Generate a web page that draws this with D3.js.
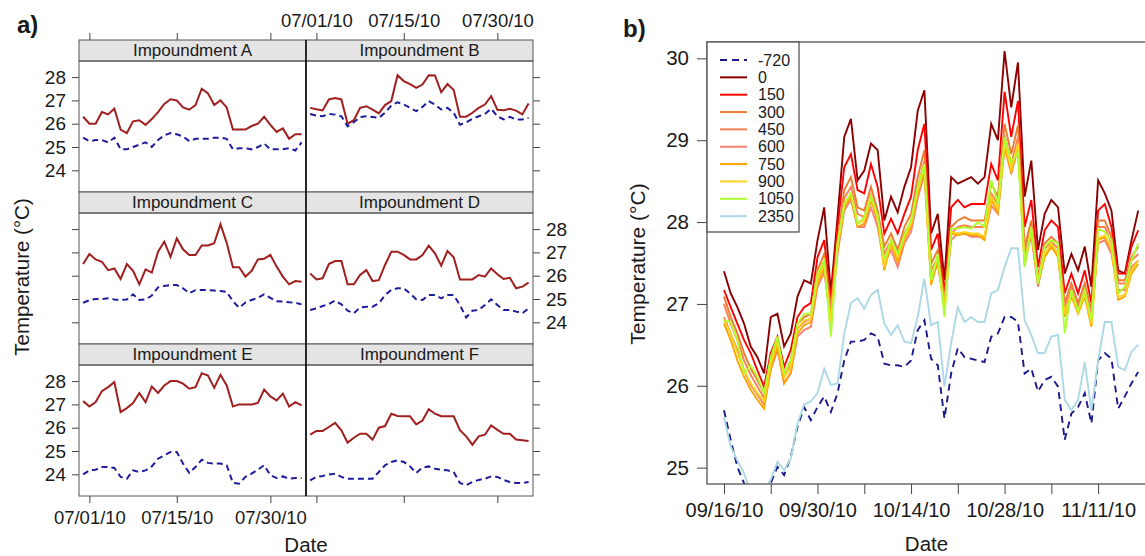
<!DOCTYPE html>
<html lang="en">
<head>
<meta charset="UTF-8">
<title>Impoundment temperatures</title>
<script src="https://d3js.org/d3.v7.min.js"></script>
<style>
    body { margin: 0; background: #fff; }
    svg text { font-family: "Liberation Sans", Arial, sans-serif; fill: #1a1a1a; }
    .tick line { stroke: #444; }
</style>
</head>
<body>
<svg id="canvas" width="1145" height="556"></svg>
<script>
// ---------- panel a data (daily, 06/30/10 - 08/04/10) ----------
const aFirstDay = "06/30/2010", aLastDay = "08/04/2010";
const impoundments = ["Impoundment A", "Impoundment B", "Impoundment C", "Impoundment D", "Impoundment E", "Impoundment F"];
const aTicks = ["07/01/2010", "07/15/2010", "07/30/2010"];
const aYTicks = [24, 25, 26, 27, 28];

const upperA = [26.3, 26.0, 26.0, 26.5, 26.4, 26.65, 25.75, 25.6, 26.1, 26.15, 25.95, 26.2, 26.5, 26.85, 27.05, 27.0, 26.7, 26.6, 26.8, 27.5, 27.3, 26.8, 27.0, 26.7, 25.75, 25.75, 25.75, 25.9, 26.0, 26.3, 25.95, 25.65, 25.8, 25.35, 25.55, 25.55];
const lowerA = [25.4, 25.25, 25.3, 25.3, 25.2, 25.4, 24.9, 24.9, 25.0, 25.1, 25.2, 25.0, 25.3, 25.5, 25.6, 25.55, 25.45, 25.25, 25.35, 25.35, 25.35, 25.4, 25.4, 25.35, 24.9, 24.95, 24.95, 24.9, 25.0, 25.15, 24.9, 24.9, 24.9, 24.95, 24.85, 25.2];
const upperB = [26.68, 26.62, 26.57, 27.04, 27.1, 27.04, 26.0, 26.15, 26.68, 26.75, 26.6, 26.44, 26.8, 26.97, 28.08, 27.83, 27.7, 27.54, 27.68, 28.08, 28.07, 27.35, 27.7, 27.44, 26.3, 26.3, 26.47, 26.68, 26.82, 27.18, 26.6, 26.58, 26.64, 26.56, 26.4, 26.87];
const lowerB = [26.42, 26.35, 26.32, 26.42, 26.39, 26.32, 25.89, 26.06, 26.29, 26.32, 26.29, 26.25, 26.47, 26.78, 26.92, 26.82, 26.68, 26.54, 26.72, 26.97, 26.82, 26.61, 26.68, 26.47, 25.96, 26.06, 26.21, 26.32, 26.42, 26.64, 26.32, 26.18, 26.29, 26.18, 26.18, 26.25];
const upperC = [26.5, 26.93, 26.7, 26.6, 26.24, 26.31, 25.86, 26.5, 26.21, 25.63, 26.27, 26.13, 27.03, 27.46, 26.81, 27.6, 27.13, 26.89, 26.89, 27.3, 27.3, 27.39, 28.21, 27.41, 26.36, 26.36, 25.96, 26.21, 26.7, 26.73, 26.89, 26.39, 25.96, 25.63, 25.77, 25.74];
const lowerC = [24.84, 24.95, 25.0, 25.0, 25.03, 24.98, 24.96, 24.98, 25.2, 24.96, 24.98, 25.15, 25.5, 25.56, 25.6, 25.6, 25.46, 25.25, 25.38, 25.39, 25.38, 25.36, 25.34, 25.31, 24.9, 24.63, 24.85, 24.96, 25.05, 25.2, 25.05, 24.9, 24.89, 24.86, 24.84, 24.77];
const upperD = [26.1, 25.84, 25.89, 26.5, 26.63, 26.63, 25.63, 25.63, 26.03, 26.24, 25.77, 25.81, 26.46, 27.03, 27.03, 26.89, 26.7, 26.7, 26.89, 27.29, 26.96, 26.43, 27.06, 26.79, 25.84, 25.84, 25.84, 26.03, 25.96, 26.31, 26.06, 25.86, 25.91, 25.46, 25.53, 25.7];
const lowerD = [24.53, 24.6, 24.7, 24.79, 24.93, 24.77, 24.5, 24.39, 24.64, 24.67, 24.67, 24.81, 25.17, 25.39, 25.46, 25.46, 25.24, 24.99, 24.96, 25.17, 25.17, 25.03, 25.17, 25.17, 24.74, 24.21, 24.5, 24.53, 24.74, 24.99, 24.74, 24.53, 24.53, 24.46, 24.39, 24.6];
const upperE = [27.14, 26.91, 27.1, 27.57, 27.74, 27.96, 26.67, 26.84, 27.06, 27.49, 27.1, 27.77, 27.49, 27.81, 28.0, 28.0, 27.89, 27.67, 27.74, 28.34, 28.24, 27.71, 28.27, 27.81, 26.91, 27.0, 27.0, 27.0, 27.06, 27.64, 27.34, 27.17, 27.46, 26.91, 27.1, 26.96];
const lowerE = [24.0, 24.17, 24.2, 24.31, 24.31, 24.27, 23.89, 23.81, 24.17, 24.1, 24.17, 24.34, 24.67, 24.81, 24.96, 24.96, 24.46, 24.06, 24.31, 24.63, 24.49, 24.46, 24.46, 24.39, 23.63, 23.6, 23.89, 24.03, 24.2, 24.39, 23.96, 23.84, 23.91, 23.81, 23.84, 23.84];
const upperF = [25.7, 25.86, 25.86, 26.03, 26.21, 25.89, 25.36, 25.57, 25.74, 25.74, 25.49, 26.0, 26.07, 26.6, 26.5, 26.49, 26.49, 26.14, 26.31, 26.79, 26.6, 26.49, 26.49, 26.49, 25.89, 25.63, 25.27, 25.63, 25.7, 26.1, 25.91, 25.74, 25.74, 25.49, 25.46, 25.43];
const lowerF = [23.74, 23.89, 23.93, 23.99, 24.03, 23.89, 23.81, 23.81, 23.81, 23.81, 23.81, 24.1, 24.39, 24.53, 24.6, 24.53, 24.34, 24.06, 24.29, 24.34, 24.24, 24.2, 24.17, 24.1, 23.63, 23.53, 23.67, 23.76, 23.81, 23.91, 23.89, 23.76, 23.67, 23.63, 23.63, 23.67];

// ---------- panel b data (daily, 09/16/10 - 11/17/10) ----------
const bFirstDay = "09/16/2010", bLastDay = "11/17/2010";
const bLabels = ["-720", "0", "150", "300", "450", "600", "750", "900", "1050", "2350"];
const bYTicks = [25, 26, 27, 28, 29, 30];

const bM720 = [25.70, 25.34, 25.01, 24.81, 24.53, 24.44, 24.53, 24.81, 25.01, 24.91, 25.13, 25.50, 25.74, 25.58, 25.74, 25.87, 25.68, 25.91, 26.31, 26.54, 26.54, 26.56, 26.64, 26.60, 26.27, 26.25, 26.25, 26.23, 26.31, 26.68, 26.80, 26.33, 26.25, 25.60, 26.15, 26.46, 26.35, 26.33, 26.31, 26.29, 26.60, 26.64, 26.84, 26.84, 26.78, 26.15, 26.21, 25.93, 26.07, 26.11, 25.99, 25.34, 25.66, 25.74, 25.91, 25.54, 26.31, 26.40, 26.33, 25.72, 25.87, 26.03, 26.17];
const b0 = [27.40, 27.13, 26.96, 26.76, 26.48, 26.35, 26.15, 26.84, 26.88, 26.48, 26.64, 27.09, 27.29, 27.25, 27.78, 28.18, 27.13, 28.06, 29.04, 29.26, 28.51, 28.63, 28.96, 28.88, 28.02, 28.31, 28.12, 28.43, 28.67, 29.36, 29.61, 27.86, 28.10, 27.29, 28.55, 28.47, 28.51, 28.55, 28.47, 28.55, 29.20, 29.00, 30.09, 29.40, 29.95, 28.31, 28.75, 27.66, 28.10, 28.27, 28.18, 27.37, 27.61, 27.41, 27.70, 27.21, 28.51, 28.35, 28.14, 27.41, 27.37, 27.78, 28.14];
const b150 = [27.17, 26.96, 26.76, 26.56, 26.40, 26.19, 25.99, 26.40, 26.60, 26.23, 26.44, 26.84, 26.96, 27.01, 27.57, 27.78, 27.05, 27.94, 28.67, 28.83, 28.39, 28.35, 28.71, 28.43, 27.86, 28.04, 27.86, 28.10, 28.31, 28.88, 29.20, 27.66, 27.86, 27.13, 28.18, 28.27, 28.18, 28.22, 28.22, 28.22, 28.71, 28.51, 29.59, 29.04, 29.48, 27.94, 28.27, 27.45, 27.90, 28.02, 27.94, 27.13, 27.37, 27.13, 27.41, 27.01, 28.14, 28.22, 27.94, 27.37, 27.37, 27.70, 27.90];
const b300 = [27.09, 26.84, 26.64, 26.40, 26.21, 26.07, 25.91, 26.31, 26.54, 26.15, 26.31, 26.76, 26.84, 26.88, 27.41, 27.61, 26.96, 27.78, 28.39, 28.55, 28.18, 28.14, 28.43, 28.14, 27.70, 27.86, 27.66, 27.94, 28.10, 28.55, 28.88, 27.49, 27.66, 27.05, 27.94, 28.02, 28.06, 28.02, 28.02, 28.02, 28.47, 28.31, 29.20, 28.83, 29.18, 27.70, 28.02, 27.33, 27.74, 27.82, 27.74, 27.01, 27.25, 27.01, 27.25, 26.92, 28.02, 28.02, 27.82, 27.29, 27.29, 27.57, 27.70];
const b450 = [27.00, 26.76, 26.56, 26.31, 26.13, 25.99, 25.85, 26.25, 26.50, 26.11, 26.25, 26.70, 26.78, 26.82, 27.33, 27.51, 26.90, 27.70, 28.29, 28.43, 28.10, 28.06, 28.33, 28.06, 27.61, 27.78, 27.57, 27.86, 28.00, 28.43, 28.75, 27.41, 27.57, 27.00, 27.86, 27.94, 27.96, 27.94, 27.94, 27.94, 28.35, 28.22, 29.06, 28.71, 29.04, 27.61, 27.94, 27.29, 27.68, 27.76, 27.68, 26.96, 27.21, 26.96, 27.19, 26.88, 27.94, 27.94, 27.74, 27.25, 27.25, 27.53, 27.61];
const b600 = [26.84, 26.64, 26.44, 26.19, 26.01, 25.89, 25.77, 26.19, 26.44, 26.03, 26.15, 26.60, 26.68, 26.72, 27.21, 27.39, 26.80, 27.61, 28.14, 28.27, 27.94, 27.94, 28.18, 27.94, 27.49, 27.66, 27.45, 27.74, 27.88, 28.29, 28.59, 27.29, 27.49, 26.96, 27.78, 27.86, 27.86, 27.82, 27.82, 27.82, 28.20, 28.10, 28.92, 28.59, 28.90, 27.53, 27.84, 27.21, 27.61, 27.70, 27.61, 26.88, 27.13, 26.92, 27.13, 26.84, 27.74, 27.78, 27.61, 27.17, 27.17, 27.45, 27.53];
const b750 = [26.76, 26.56, 26.31, 26.11, 25.95, 25.83, 25.72, 26.21, 26.48, 26.03, 26.17, 26.64, 26.74, 26.78, 27.25, 27.45, 26.84, 27.68, 28.18, 28.31, 27.94, 27.98, 28.27, 28.02, 27.41, 27.74, 27.51, 27.78, 27.94, 28.35, 28.63, 27.23, 27.53, 26.94, 27.86, 27.84, 27.86, 27.84, 27.84, 27.78, 28.27, 28.12, 28.92, 28.61, 28.92, 27.47, 27.88, 27.25, 27.57, 27.70, 27.57, 26.84, 27.09, 26.88, 27.09, 26.72, 27.78, 27.82, 27.66, 27.05, 27.09, 27.37, 27.49];
const b900 = [26.80, 26.64, 26.40, 26.19, 26.03, 25.91, 25.81, 26.27, 26.54, 26.11, 26.23, 26.70, 26.80, 26.82, 27.31, 27.49, 26.78, 27.72, 28.22, 28.35, 27.98, 28.02, 28.31, 28.06, 27.45, 27.78, 27.57, 27.82, 27.98, 28.39, 28.67, 27.29, 27.57, 26.96, 27.88, 27.86, 27.88, 27.86, 27.86, 27.82, 28.31, 28.16, 28.96, 28.65, 28.96, 27.51, 27.90, 27.29, 27.61, 27.74, 27.61, 26.88, 27.13, 26.90, 27.13, 26.76, 27.80, 27.84, 27.68, 27.09, 27.11, 27.41, 27.53];
const b1050 = [26.80, 26.78, 26.56, 26.15, 26.25, 26.11, 25.91, 26.35, 26.60, 26.15, 26.31, 26.76, 26.88, 26.88, 27.37, 27.53, 26.60, 27.74, 28.22, 28.35, 27.98, 28.06, 28.31, 28.08, 27.53, 27.78, 27.61, 27.84, 28.02, 28.43, 28.71, 27.29, 27.61, 26.84, 27.92, 27.92, 27.94, 27.92, 28.00, 27.94, 28.51, 28.22, 29.04, 28.73, 28.85, 27.45, 27.94, 27.25, 27.70, 27.78, 27.74, 26.64, 27.17, 26.92, 27.17, 26.80, 27.92, 27.88, 27.78, 27.13, 27.21, 27.53, 27.74];
const b2350 = [25.62, 25.26, 25.09, 24.93, 24.69, 24.53, 24.73, 24.85, 25.07, 24.97, 25.11, 25.54, 25.77, 25.81, 25.91, 26.21, 26.01, 26.03, 26.64, 27.01, 27.07, 26.94, 27.11, 27.17, 26.76, 26.62, 26.74, 26.54, 26.52, 26.84, 27.31, 26.74, 26.78, 25.99, 26.52, 26.96, 26.78, 26.84, 26.78, 26.78, 27.13, 27.17, 27.45, 27.68, 27.68, 26.80, 26.62, 26.40, 26.40, 26.60, 26.62, 25.83, 25.70, 25.83, 26.29, 25.70, 26.31, 26.78, 26.78, 26.23, 26.19, 26.42, 26.50];

// styles
const upperColor = "#a01f1f", lowerColor = "#1c1c9c";
const bColors = ["#1a1a8c", "#8b0000", "#ff0000", "#ee7b30", "#ff7f50", "#fa8072", "#ffa500", "#ffd21f", "#adff2f", "#add8e6"];

const svg = d3.select("#canvas");
const parseDay = d3.timeParse("%m/%d/%Y");
const fmtDay = d3.timeFormat("%m/%d/%y");

// ================= panel a =================
const aDates = d3.timeDay.range(parseDay(aFirstDay), d3.timeDay.offset(parseDay(aLastDay), 1));
const aUpper = [upperA, upperB, upperC, upperD, upperE, upperF];
const aLower = [lowerA, lowerB, lowerC, lowerD, lowerE, lowerF];

const aLeft = 79, aW = 227, aTop = 40, stripH = 21, bodyH = 131, rowH = 152;
const xa = d3.scaleTime()
    .domain([d3.timeHour.offset(parseDay("07/01/2010"), -40), d3.timeHour.offset(parseDay("08/04/2010"), 17)])
    .range([0, aW]);
const ya = d3.scaleLinear().domain([23.07, 28.69]).range([bodyH, 0]);
const aTickDates = aTicks.map(parseDay);

const lineA = d3.line()
    .x((d, i) => xa(aDates[i]))
    .y(d => ya(d));

impoundments.forEach(function (name, p) {
    let col = p % 2, row = Math.floor(p / 2);
    let g = svg.append("g").attr("transform", `translate(${aLeft + col * aW},${aTop + row * rowH})`);

    g.append("rect").attr("width", aW).attr("height", stripH)
        .attr("fill", "#e4e4e4").attr("stroke", "#555").attr("stroke-width", 1);
    g.append("text").attr("x", aW / 2).attr("y", 16).attr("text-anchor", "middle")
        .style("font-size", "17px").text(name);

    let body = g.append("g").attr("transform", `translate(0,${stripH})`);
    body.append("rect").attr("width", aW).attr("height", bodyH)
        .attr("fill", "none").attr("stroke", "#555").attr("stroke-width", 1);

    body.append("path").datum(aUpper[p]).attr("d", lineA)
        .attr("fill", "none").attr("stroke", upperColor).attr("stroke-width", 2);
    body.append("path").datum(aLower[p]).attr("d", lineA)
        .attr("fill", "none").attr("stroke", lowerColor).attr("stroke-width", 2)
        .attr("stroke-dasharray", "6,4");

    // lattice style alternating axes
    let yFmt = d3.format("d");
    if (col === 0) {
        let ax = body.append("g").call(d3.axisLeft(ya).tickValues(aYTicks).tickSize(7).tickPadding(6)
            .tickFormat(row === 1 ? "" : yFmt));
        ax.select(".domain").remove();
        ax.selectAll("text").style("font-size", "19px");
    } else {
        let ax = body.append("g").attr("transform", `translate(${aW},0)`)
            .call(d3.axisRight(ya).tickValues(aYTicks).tickSize(7).tickPadding(6)
                .tickFormat(row === 1 ? yFmt : ""));
        ax.select(".domain").remove();
        ax.selectAll("text").style("font-size", "19px");
    }
    if (row === 0) {
        let ax = g.append("g").call(d3.axisTop(xa).tickValues(aTickDates).tickSize(7).tickPadding(6)
            .tickFormat(col === 1 ? fmtDay : ""));
        ax.select(".domain").remove();
        ax.selectAll("text").style("font-size", "18.5px");
    }
    if (row === 2) {
        let ax = body.append("g").attr("transform", `translate(0,${bodyH})`)
            .call(d3.axisBottom(xa).tickValues(aTickDates).tickSize(7).tickPadding(8)
                .tickFormat(col === 0 ? fmtDay : ""));
        ax.select(".domain").remove();
        ax.selectAll("text").style("font-size", "18.5px");
    }
});

// shared column border
svg.append("line").attr("x1", aLeft + aW).attr("x2", aLeft + aW)
    .attr("y1", aTop).attr("y2", aTop + 3 * rowH)
    .attr("stroke", "#111").attr("stroke-width", 1.6);

svg.append("text").attr("x", aLeft + aW).attr("y", 552).attr("text-anchor", "middle")
    .style("font-size", "20.5px").text("Date");
svg.append("text").attr("transform", "translate(29,277) rotate(-90)").attr("text-anchor", "middle")
    .style("font-size", "20.5px").text("Temperature (°C)");
svg.append("text").attr("x", 17).attr("y", 33).style("font-size", "24px").style("font-weight", "bold").text("a)");

// ================= panel b =================
const bDates = d3.timeDay.range(parseDay(bFirstDay), d3.timeDay.offset(parseDay(bLastDay), 1));
const bSeries = [bM720, b0, b150, b300, b450, b600, b750, b900, b1050, b2350];
const bL = 707, bR = 1146, bT = 42, bB = 484;
const b0day = parseDay(bFirstDay);
const xb = d3.scaleTime()
    .domain([d3.timeHour.offset(b0day, -61), d3.timeHour.offset(b0day, 1516)])
    .range([bL, bR]);
const yb = d3.scaleLinear().domain([24.8, 30.2]).range([bB, bT]);

svg.append("clipPath").attr("id", "clipB").append("rect")
    .attr("x", bL).attr("y", bT).attr("width", bR - bL).attr("height", bB - bT);

const lineB = d3.line()
    .x((d, i) => xb(bDates[i]))
    .y(d => yb(d));

let linesB = svg.append("g").attr("clip-path", "url(#clipB)");
bSeries.forEach(function (s, k) {
    linesB.append("path").datum(s).attr("d", lineB)
        .attr("fill", "none").attr("stroke", bColors[k]).attr("stroke-width", 1.9)
        .attr("stroke-dasharray", k === 0 ? "7,5" : null);
});

svg.append("rect").attr("x", bL).attr("y", bT).attr("width", bR - bL).attr("height", bB - bT)
    .attr("fill", "none").attr("stroke", "#555").attr("stroke-width", 1.3);

let byAxis = svg.append("g").attr("transform", `translate(${bL},0)`)
    .call(d3.axisLeft(yb).tickValues(bYTicks).tickSize(10).tickPadding(8).tickFormat(d3.format("d")));
byAxis.select(".domain").remove();
byAxis.selectAll("text").style("font-size", "20.5px");

const bTickDates = d3.timeDay.range(b0day, parseDay("11/12/2010"), 7);
let bxAxis = svg.append("g").attr("transform", `translate(0,${bB})`)
    .call(d3.axisBottom(xb).tickValues(bTickDates).tickSize(10).tickPadding(9)
        .tickFormat((d, i) => i % 2 === 0 ? fmtDay(d) : ""));
bxAxis.select(".domain").remove();
bxAxis.selectAll("text").style("font-size", "20px");

// legend
let leg = svg.append("g");
leg.append("rect").attr("x", bL).attr("y", bT).attr("width", 92).attr("height", 190)
    .attr("fill", "#fff").attr("stroke", "#555").attr("stroke-width", 1.3);
bLabels.forEach(function (lab, k) {
    let yy = 60 + k * 17.35;
    leg.append("line").attr("x1", 720).attr("x2", 747).attr("y1", yy).attr("y2", yy)
        .attr("stroke", bColors[k]).attr("stroke-width", 2)
        .attr("stroke-dasharray", k === 0 ? "7,5" : null);
    leg.append("text").attr("x", 758).attr("y", yy).attr("dy", "0.35em")
        .style("font-size", "16px").text(lab);
});

svg.append("text").attr("x", (bL + bR) / 2).attr("y", 551).attr("text-anchor", "middle")
    .style("font-size", "20.5px").text("Date");
svg.append("text").attr("transform", "translate(645,264) rotate(-90)").attr("text-anchor", "middle")
    .style("font-size", "21px").text("Temperature (°C)");
svg.append("text").attr("x", 623).attr("y", 37).style("font-size", "24px").style("font-weight", "bold").text("b)");
</script>
</body>
</html>
